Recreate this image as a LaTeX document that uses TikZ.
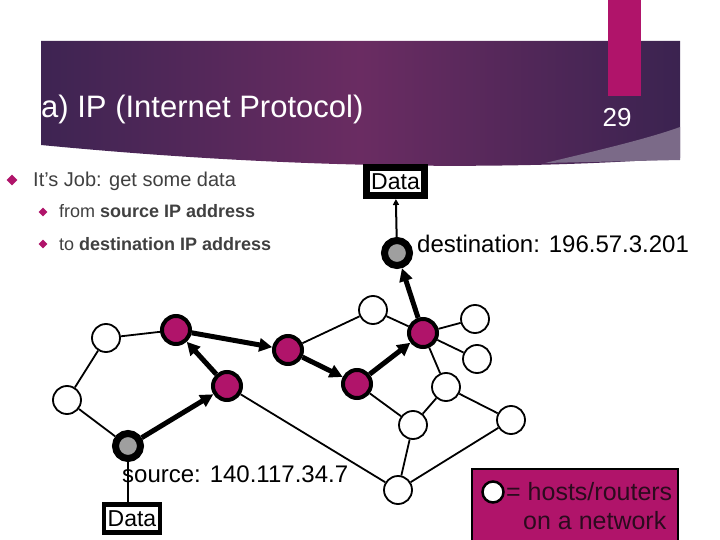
\documentclass[tikz,border=0pt]{standalone}
\usepackage{fontspec}
\setmainfont{Liberation Sans}
\usetikzlibrary{arrows.meta,shapes.geometric}
\definecolor{bandL}{HTML}{3E2452}
\definecolor{bandM}{HTML}{6A2C62}
\definecolor{bandR}{HTML}{3B2350}
\definecolor{swoosh}{HTML}{7B6A88}
\definecolor{berry}{HTML}{B0146A}
\definecolor{txtgray}{HTML}{404040}
\definecolor{keytxt}{HTML}{2B0B1E}

\begin{document}
\begin{tikzpicture}[x=1pt,y=-1pt,
	host/.style={draw,circle,fill=white,line width=1.8pt,minimum size=28pt,inner sep=0pt},
	hop/.style={draw,circle,fill=berry,line width=4pt,minimum size=28pt,inner sep=0pt},
	endpt/.style={draw,circle,fill=gray!75,line width=7pt,minimum size=25pt,inner sep=0pt},
	route/.style={line width=5pt,-{Triangle[length=13pt,width=13pt]}},
	link/.style={line width=1.8pt},
	databox/.style={draw,fill=white,inner sep=0pt,minimum height=28pt,font=\fontsize{23}{26}\selectfont},
	bullet/.style={diamond,fill=berry,inner sep=0pt},
	txt/.style={anchor=base west,inner sep=0pt}]
			\useasboundingbox (0,0) rectangle (720,540);
			% slide header
			\shade[left color=bandL, right color=bandR, middle color=bandM]
				(41,41) -- (680,41) -- (680,158) .. controls (520,170) and (300,170) .. (41,145) -- cycle;
			\fill[swoosh] (545,163) .. controls (600,150) and (650,138) .. (680,127) -- (680,160) -- cycle;
			\fill[berry] (608,0) rectangle (641,96);
			\node[txt,text=white,font=\fontsize{31}{36}\selectfont] (title) at (41,118) {a) IP (Internet Protocol)};
			\node[anchor=base,inner sep=0pt,text=white,font=\fontsize{26}{30}\selectfont] (page) at (617,127) {29};

			% bullets
			\node[bullet,minimum size=11pt] (b1) at (12,180) {};
			\node[txt,text=txtgray,font=\fontsize{20}{24}\selectfont] (job) at (33,187) {It’s Job: get some data};
			\node[bullet,minimum size=9pt] (b2) at (43,212) {};
			\node[txt,text=txtgray,font=\fontsize{18}{21}\selectfont] (from) at (59,218) {from \textbf{source IP address}};
			\node[bullet,minimum size=9pt] (b3) at (43,244) {};
			\node[txt,text=txtgray,font=\fontsize{18}{21}\selectfont] (to) at (59,250) {to \textbf{destination IP address}};

			% network
			\node[host]  (w1)  at (106,338) {};
			\node[host]  (w2)  at (67,400)  {};
			\node[endpt] (src) at (128,446) {};
			\node[hop]   (r1)  at (176,330) {};
			\node[hop]   (r2)  at (227,386) {};
			\node[hop]   (r3)  at (288,350) {};
			\node[hop]   (r4)  at (357,384) {};
			\node[hop]   (r5)  at (423,333) {};
			\node[endpt] (dst) at (397,253) {};
			\node[host]  (w3)  at (373,310) {};
			\node[host]  (w4)  at (475,319) {};
			\node[host]  (w5)  at (477,359) {};
			\node[host]  (w6)  at (446,387) {};
			\node[host]  (w7)  at (413,425) {};
			\node[host]  (w8)  at (511,420) {};
			\node[host]  (w9)  at (398,490) {};

			\def\links {w1/w2, w2/src, w1/r1, r3/w3, w3/r5, r5/w4, r5/w5, r5/w6,
			w6/w7, w6/w8, r4/w7, w7/w9, w8/w9, r2/w9}  % plain links
			\foreach \u\v in \links
			{	\draw[link] (\u) -- (\v);
			}
			\def\hops {src/r2, r2/r1, r1/r3, r3/r4, r4/r5, r5/dst}  % route of the packet
			\foreach \u\v in \hops
			{	\draw[route] (\u) -- (\v);
			}

			% data boxes
			\node[databox,line width=7pt,minimum width=58pt] (datat) at (395.5,181.5) {Data};
			\node[databox,line width=4.5pt,minimum width=56pt] (datab) at (132,518.5) {Data};
			\draw[line width=2pt,-{Triangle[length=6pt,width=6pt]}] (dst) -- (datat);
			\draw[line width=2.5pt] (src) -- (src |- datab.north);
			\node[txt,font=\fontsize{24}{28}\selectfont] (srclbl) at (122,482) {source: 140.117.34.7};
			\node[txt,font=\fontsize{24}{28}\selectfont] (dstlbl) at (417,252) {destination: 196.57.3.201};

			% legend
			\fill[berry] (472,469) rectangle (678,540);
			\draw[line width=1.5pt] (472,540) -- (472,469) -- (678,469) -- (678,540);
			\node[host,minimum size=21pt,line width=2.5pt] (key) at (493,492) {};
			\node[txt,text=keytxt,font=\fontsize{25}{29}\selectfont] (keya) at (506,500) {= hosts/routers};
			\node[txt,text=keytxt,font=\fontsize{25}{29}\selectfont] (keyb) at (523,529) {on a network};
		\end{tikzpicture}
\end{document}
